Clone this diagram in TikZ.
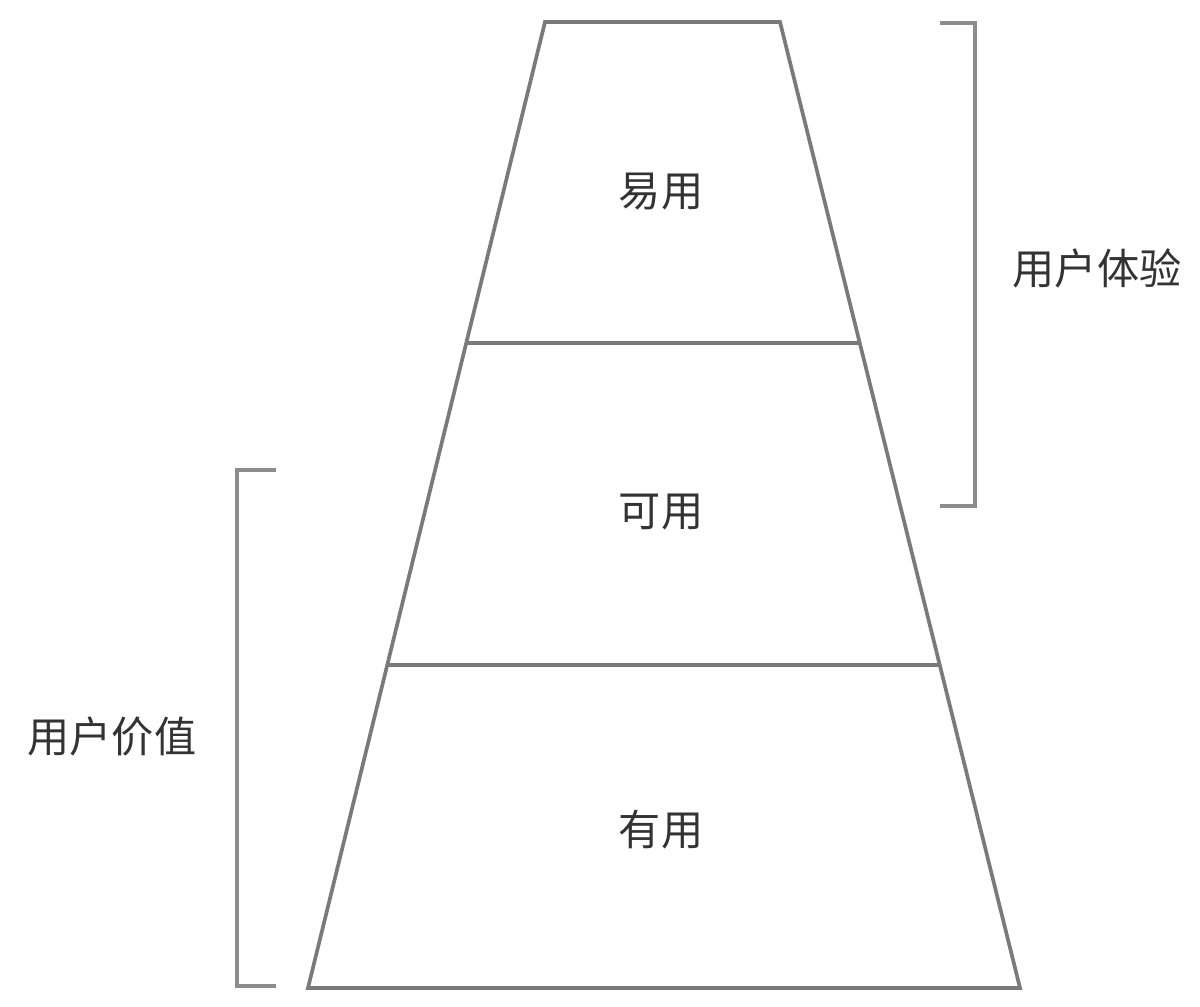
\documentclass[tikz,border=0pt]{standalone}
\usepackage{fontspec}
\newfontfamily\cjk{Noto Sans CJK SC}
\usetikzlibrary{positioning}
\definecolor{edgegray}{HTML}{7A7A7A}
\definecolor{bracegray}{HTML}{8C8C8C}
\definecolor{textgray}{HTML}{333333}

\tikzset{
  layer/.style={draw=edgegray,line width=1.05pt,line join=miter},
  brace/.style={draw=bracegray,line width=1.05pt},
  lbl/.style={font=\cjk\fontsize{12pt}{14pt}\selectfont,text=textgray,inner sep=0pt}
}

\begin{document}
\begin{tikzpicture}[x=0.01cm,y=-0.01cm]
  \useasboundingbox (0,0) rectangle (1200,1006);
  % pyramid corners
  \coordinate (topl) at (545,22);
  \coordinate (topr) at (780,22);
  \coordinate (botl) at (308,988);
  \coordinate (botr) at (1020,988);
  \coordinate (cutAl) at (466,343);
  \coordinate (cutAr) at (860,343);
  \coordinate (cutBl) at (387,665);
  \coordinate (cutBr) at (940,665);

  \draw[layer] (topl) -- (topr) -- (botr) -- (botl) -- cycle;
  \draw[layer] (cutAl) -- (cutAr);
  \draw[layer] (cutBl) -- (cutBr);

  \node[lbl] (easy) at (661,192) {易用};
  \node[lbl] (usable) at (661,512) {可用};
  \node[lbl] (useful) at (661,830) {有用};

  % brackets
  \coordinate (uxtop) at (940,23);
  \coordinate (uxbot) at (940,506);
  \draw[brace] (uxtop) -- (975,23) -- (975,506) -- (uxbot);
  \node[lbl] (ux) at (1097,268) {用户体验};

  \coordinate (valtop) at (276,470);
  \coordinate (valbot) at (276,986);
  \draw[brace] (valtop) -- (237,470) -- (237,986) -- (valbot);
  \node[lbl] (value) at (112,737) {用户价值};
\end{tikzpicture}
\end{document}
